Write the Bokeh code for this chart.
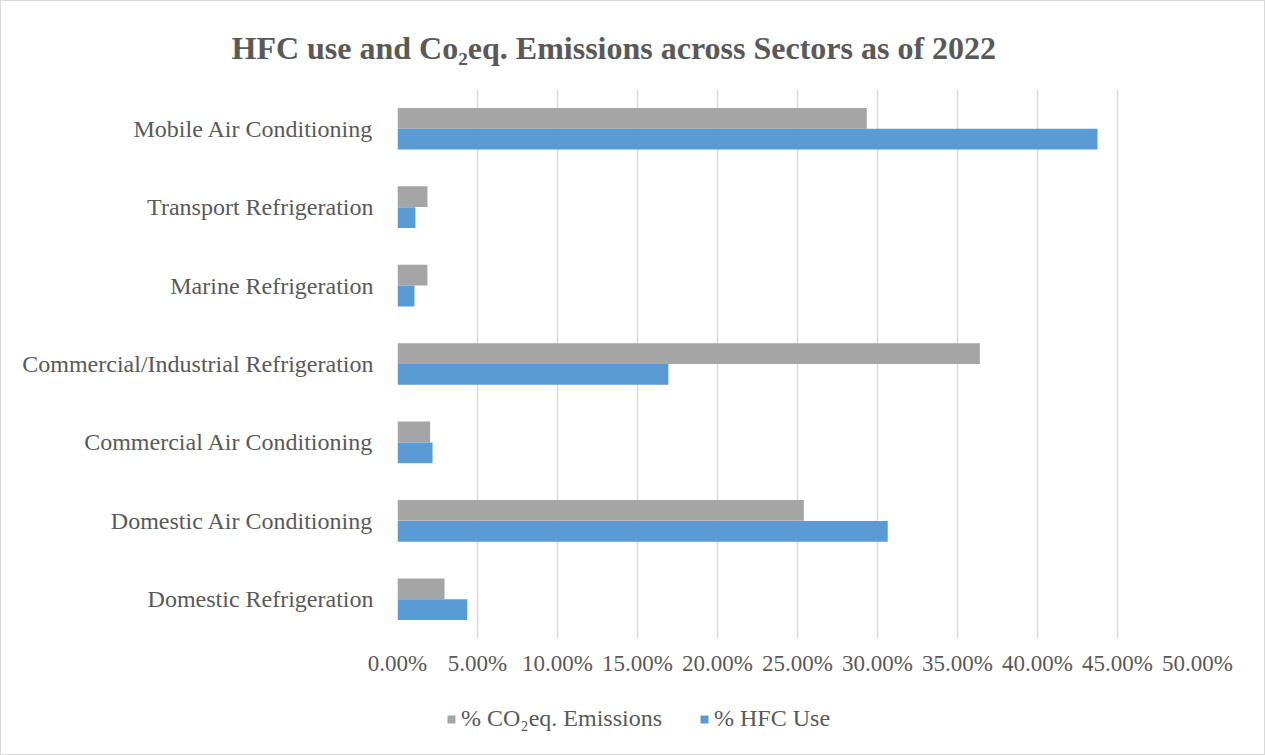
from bokeh.plotting import figure
from bokeh.layouts import column
from bokeh.models import (ColumnDataSource, FactorRange, FixedTicker,
                          PrintfTickFormatter, Legend, LegendItem)
from bokeh.transform import dodge
from bokeh.embed import file_html
from bokeh.resources import INLINE

# Sectors listed bottom-to-top as they appear on the chart
sectors = [
    "Domestic Refrigeration",
    "Domestic Air Conditioning",
    "Commercial Air Conditioning",
    "Commercial/Industrial Refrigeration",
    "Marine Refrigeration",
    "Transport Refrigeration",
    "Mobile Air Conditioning",
]
co2_pct = [2.94, 25.4, 2.04, 36.4, 1.87, 1.87, 29.33]   # % CO2eq. emissions
hfc_pct = [4.36, 30.64, 2.19, 16.93, 1.06, 1.12, 43.75]  # % HFC use
x_ticks = [0, 5, 10, 15, 20, 25, 30, 35, 40, 45, 50]
series_names = ["% CO\u2082eq. Emissions", "% HFC Use"]

TEXT = "#595959"
FONT = "Liberation Serif"
GRAY = "#a5a5a5"
BLUE = "#5b9bd5"
W = 1263

src = ColumnDataSource(dict(sector=sectors, co2=co2_pct, hfc=hfc_pct))

# ---- main bar chart -------------------------------------------------------
p = figure(
    width=W, height=690,
    title="HFC use and  Co\u2082eq. Emissions across Sectors as of 2022",
    y_range=FactorRange(factors=sectors, range_padding=0),
    x_range=(0, 50),
    output_backend="svg", toolbar_location=None,
    min_border_left=396, min_border_right=67,
    min_border_top=88, min_border_bottom=53,
    background_fill_color="white", border_fill_color="white",
)
p.outline_line_color = None

p.title.align = "left"
p.title.offset = -166
p.title.standoff = 48
p.title.text_font = FONT
p.title.text_font_style = "bold"
p.title.text_font_size = "32px"
p.title.text_color = TEXT

bar_h = 0.265
p.hbar(y=dodge("sector", 0.133, range=p.y_range), left=0, right="co2",
       height=bar_h, source=src, fill_color=GRAY, line_color=None)
p.hbar(y=dodge("sector", -0.133, range=p.y_range), left=0, right="hfc",
       height=bar_h, source=src, fill_color=BLUE, line_color=None)

p.xaxis.ticker = FixedTicker(ticks=x_ticks)
p.xaxis.formatter = PrintfTickFormatter(format="%.2f%%")
for ax in (p.xaxis[0], p.yaxis[0]):
    ax.axis_line_color = None
    ax.major_tick_line_color = None
    ax.minor_tick_line_color = None
    ax.major_tick_out = 0
    ax.major_tick_in = 0
    ax.major_label_text_font = FONT
    ax.major_label_text_color = TEXT
p.xaxis.major_label_text_font_size = "23px"
p.xaxis.major_label_standoff = 12
p.yaxis.major_label_text_font_size = "24px"
p.yaxis.major_label_standoff = 24

p.xgrid.grid_line_color = "#d9d9d9"
p.xgrid.grid_line_width = 1.5
p.ygrid.grid_line_color = None

# ---- legend strip underneath (frame aligned with the chart above) ---------
q = figure(
    width=W, height=63, x_range=(0, 1), y_range=(0, 1),
    x_axis_type=None, y_axis_type=None,
    output_backend="svg", toolbar_location=None,
    min_border=0, background_fill_color="white", border_fill_color="white",
)
q.outline_line_color = None
q.grid.visible = False
# one key row kept outside the visible range, only feeding the legend swatches
key_src = ColumnDataSource(dict(y=[-5], right=[0]))
k_co2 = q.hbar(y="y", right="right", height=0.1, source=key_src,
               fill_color=GRAY, line_color=None)
k_hfc = q.hbar(y="y", right="right", height=0.1, source=key_src,
               fill_color=BLUE, line_color=None)
legend = Legend(
    items=[LegendItem(label=series_names[0], renderers=[k_co2]),
           LegendItem(label=series_names[1], renderers=[k_hfc])],
    orientation="horizontal", location=(49, 22),
    glyph_width=10, glyph_height=10, label_standoff=5, spacing=37,
    padding=0, margin=0,
    label_text_font=FONT, label_text_font_size="24px", label_text_color=TEXT,
    border_line_color=None, background_fill_alpha=0,
)
q.add_layout(legend)

page = column(p, q, spacing=0)
page.styles = {"border": "1px solid #d9d9d9", "background-color": "white"}

open("out.html", "w").write(file_html(page, INLINE))
